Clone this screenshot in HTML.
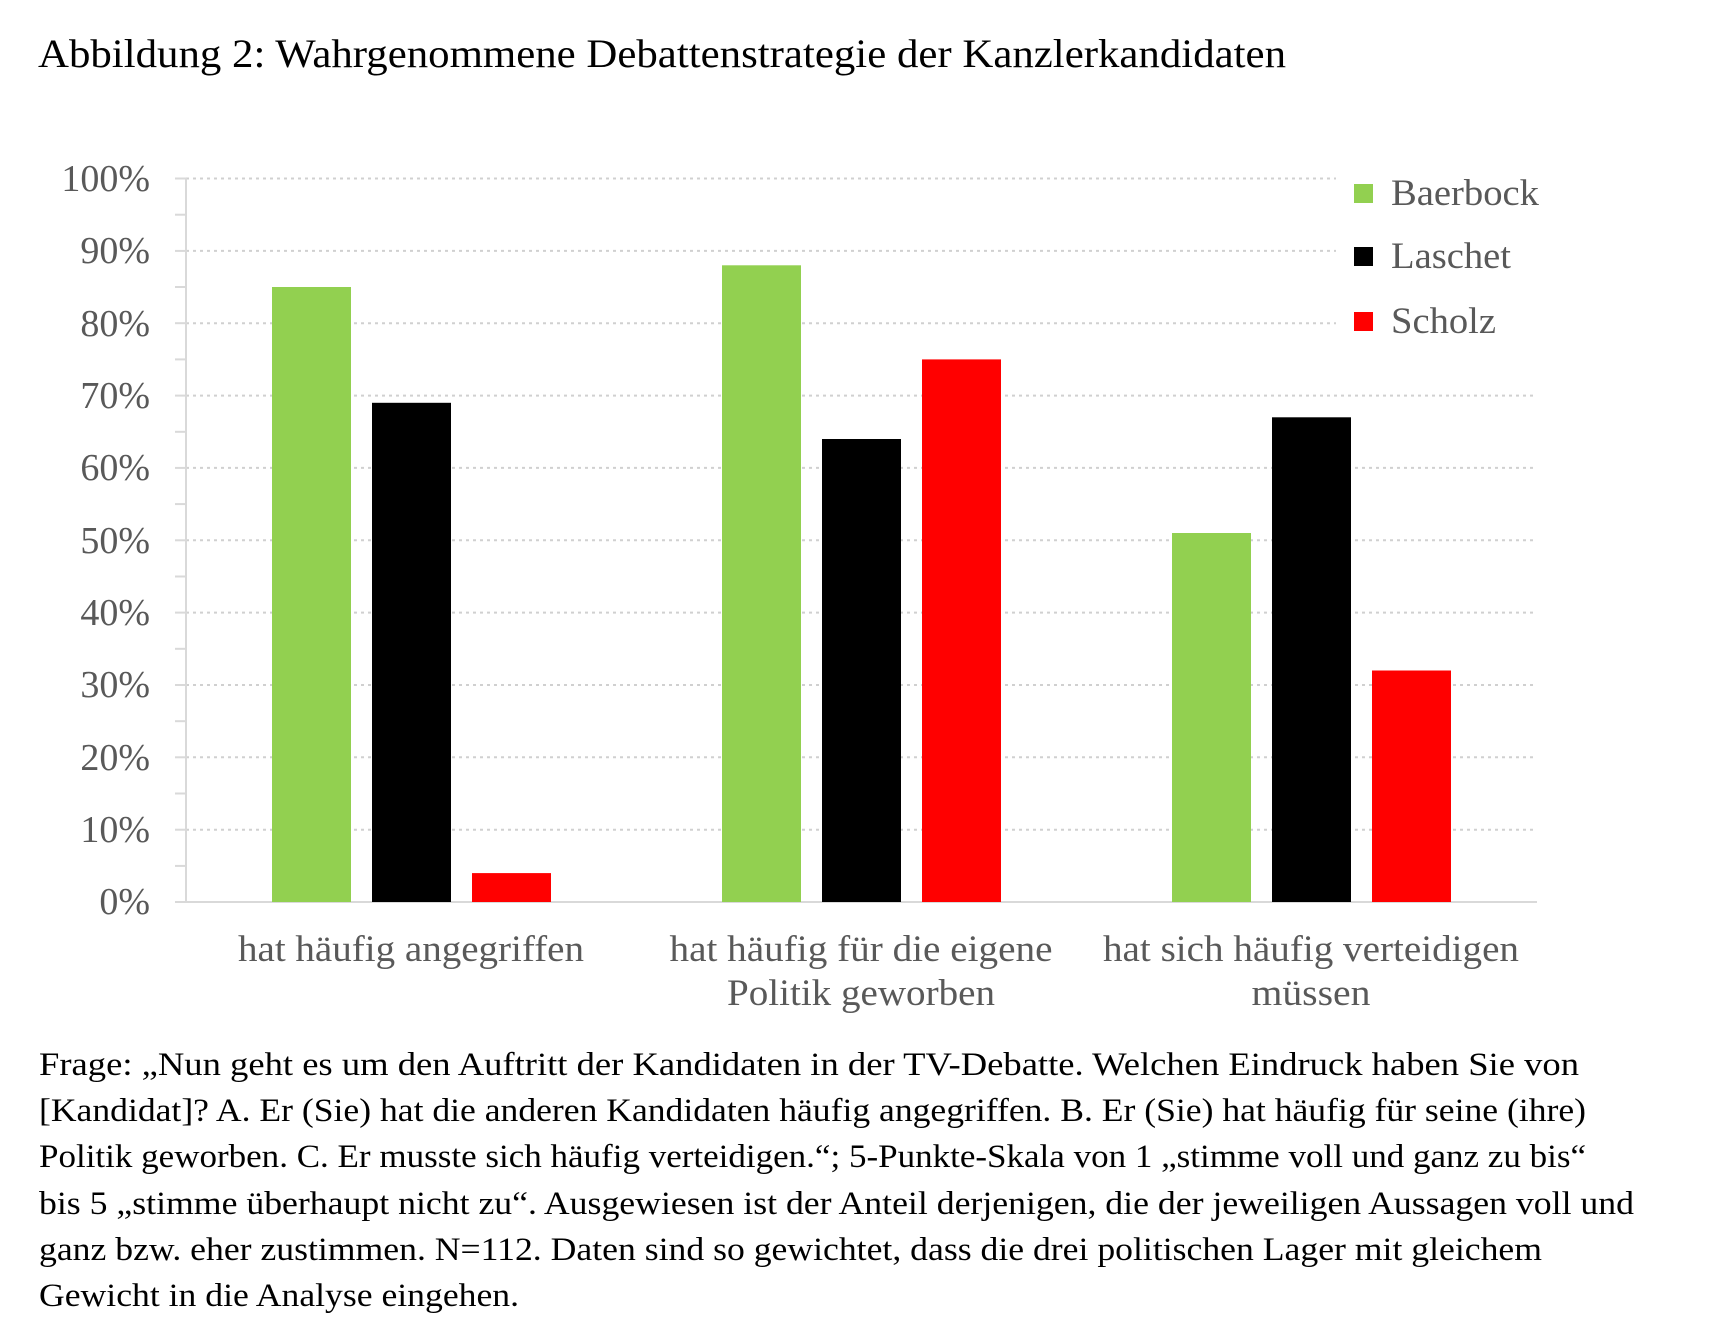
<!DOCTYPE html>
<html><head><meta charset="utf-8"><style>
html,body{margin:0;padding:0;background:#fff;}
svg{display:block;}
</style></head><body>
<svg width="1716" height="1338" xmlns="http://www.w3.org/2000/svg" font-family="'Liberation Serif', serif">
<text x="38" y="67" font-size="40" fill="#000" textLength="1248" lengthAdjust="spacingAndGlyphs">Abbildung 2: Wahrgenommene Debattenstrategie der Kanzlerkandidaten</text>
<g stroke="#d0d0d0" stroke-width="2" stroke-dasharray="3,4">
<line x1="186" x2="1336" y1="178.5" y2="178.5"/>
<line x1="186" x2="1336" y1="250.9" y2="250.9"/>
<line x1="186" x2="1336" y1="323.2" y2="323.2"/>
<line x1="186" x2="1536" y1="395.6" y2="395.6"/>
<line x1="186" x2="1536" y1="467.9" y2="467.9"/>
<line x1="186" x2="1536" y1="540.3" y2="540.3"/>
<line x1="186" x2="1536" y1="612.6" y2="612.6"/>
<line x1="186" x2="1536" y1="685" y2="685"/>
<line x1="186" x2="1536" y1="757.3" y2="757.3"/>
<line x1="186" x2="1536" y1="829.7" y2="829.7"/>
</g>
<g stroke="#d9d9d9" stroke-width="2">
<line x1="175" x2="186" y1="178.5" y2="178.5"/><line x1="175" x2="186" y1="214.7" y2="214.7"/>
<line x1="175" x2="186" y1="250.9" y2="250.9"/><line x1="175" x2="186" y1="287" y2="287"/>
<line x1="175" x2="186" y1="323.2" y2="323.2"/><line x1="175" x2="186" y1="359.4" y2="359.4"/>
<line x1="175" x2="186" y1="395.6" y2="395.6"/><line x1="175" x2="186" y1="431.8" y2="431.8"/>
<line x1="175" x2="186" y1="467.9" y2="467.9"/><line x1="175" x2="186" y1="504.1" y2="504.1"/>
<line x1="175" x2="186" y1="540.3" y2="540.3"/><line x1="175" x2="186" y1="576.5" y2="576.5"/>
<line x1="175" x2="186" y1="612.6" y2="612.6"/><line x1="175" x2="186" y1="648.8" y2="648.8"/>
<line x1="175" x2="186" y1="685" y2="685"/><line x1="175" x2="186" y1="721.2" y2="721.2"/>
<line x1="175" x2="186" y1="757.3" y2="757.3"/><line x1="175" x2="186" y1="793.5" y2="793.5"/>
<line x1="175" x2="186" y1="829.7" y2="829.7"/><line x1="175" x2="186" y1="865.9" y2="865.9"/>
<line x1="186" x2="186" y1="178" y2="902"/>
<line x1="175" x2="1537" y1="902" y2="902"/>
</g>
<g font-size="38" fill="#595959" text-anchor="end">
<text x="150" y="191">100%</text><text x="150" y="263">90%</text><text x="150" y="336">80%</text>
<text x="150" y="408">70%</text><text x="150" y="480">60%</text><text x="150" y="553">50%</text>
<text x="150" y="625">40%</text><text x="150" y="697">30%</text><text x="150" y="770">20%</text>
<text x="150" y="842">10%</text><text x="150" y="914">0%</text>
</g>
<g>
<rect x="272" y="287" width="79" height="615" fill="#92d050"/>
<rect x="372" y="402.8" width="79" height="499.2" fill="#000"/>
<rect x="472" y="873.1" width="79" height="28.9" fill="#ff0000"/>
<rect x="722" y="265.3" width="79" height="636.7" fill="#92d050"/>
<rect x="822" y="439" width="79" height="463" fill="#000"/>
<rect x="922" y="359.4" width="79" height="542.6" fill="#ff0000"/>
<rect x="1172" y="533" width="79" height="369" fill="#92d050"/>
<rect x="1272" y="417.3" width="79" height="484.7" fill="#000"/>
<rect x="1372" y="670.5" width="79" height="231.5" fill="#ff0000"/>
</g>
<g font-size="37" fill="#595959" text-anchor="middle">
<text x="411" y="961" textLength="346" lengthAdjust="spacingAndGlyphs">hat häufig angegriffen</text>
<text x="861" y="961" textLength="383" lengthAdjust="spacingAndGlyphs">hat häufig für die eigene</text>
<text x="861" y="1005" textLength="268" lengthAdjust="spacingAndGlyphs">Politik geworben</text>
<text x="1311" y="961" textLength="416" lengthAdjust="spacingAndGlyphs">hat sich häufig verteidigen</text>
<text x="1311" y="1005" textLength="119" lengthAdjust="spacingAndGlyphs">müssen</text>
</g>
<rect x="1354" y="184" width="19" height="19" fill="#92d050"/>
<rect x="1354" y="247" width="19" height="19" fill="#000"/>
<rect x="1354" y="312" width="19" height="19" fill="#ff0000"/>
<g font-size="37" fill="#595959">
<text x="1391" y="205" textLength="148" lengthAdjust="spacingAndGlyphs">Baerbock</text>
<text x="1391" y="268" textLength="120" lengthAdjust="spacingAndGlyphs">Laschet</text>
<text x="1391" y="333" textLength="105" lengthAdjust="spacingAndGlyphs">Scholz</text>
</g>
<g font-size="33" fill="#000">
<text x="39" y="1075" textLength="1540" lengthAdjust="spacingAndGlyphs">Frage: „Nun geht es um den Auftritt der Kandidaten in der TV-Debatte. Welchen Eindruck haben Sie von</text>
<text x="39" y="1121" textLength="1547" lengthAdjust="spacingAndGlyphs">[Kandidat]? A. Er (Sie) hat die anderen Kandidaten häufig angegriffen. B. Er (Sie) hat häufig für seine (ihre)</text>
<text x="39" y="1167" textLength="1547" lengthAdjust="spacingAndGlyphs">Politik geworben. C. Er musste sich häufig verteidigen.“; 5-Punkte-Skala von 1 „stimme voll und ganz zu bis“</text>
<text x="39" y="1214" textLength="1595" lengthAdjust="spacingAndGlyphs">bis 5 „stimme überhaupt nicht zu“. Ausgewiesen ist der Anteil derjenigen, die der jeweiligen Aussagen voll und</text>
<text x="39" y="1260" textLength="1503" lengthAdjust="spacingAndGlyphs">ganz bzw. eher zustimmen. N=112. Daten sind so gewichtet, dass die drei politischen Lager mit gleichem</text>
<text x="39" y="1306" textLength="480" lengthAdjust="spacingAndGlyphs">Gewicht in die Analyse eingehen.</text>
</g>
</svg>
</body></html>
